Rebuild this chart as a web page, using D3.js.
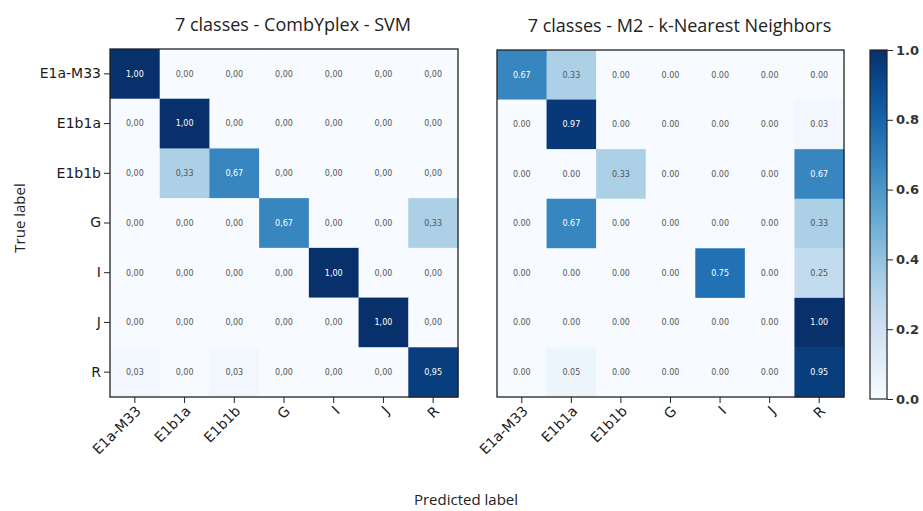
<!DOCTYPE html>
<meta charset="utf-8">
<script src="https://d3js.org/d3.v7.min.js"></script>
<style>
  body { margin: 0; background: #fff; }
  text { font-family: "Open Sans", sans-serif; }
</style>
<div id="chart"></div>
<script>

// class names (rows = true label, columns = predicted label)
const classes = ["E1a-M33", "E1b1a", "E1b1b", "G", "I", "J", "R"];

// normalised confusion matrix - CombYplex SVM
const svmValues = [
  [1.00, 0.00, 0.00, 0.00, 0.00, 0.00, 0.00],
  [0.00, 1.00, 0.00, 0.00, 0.00, 0.00, 0.00],
  [0.00, 0.33, 0.67, 0.00, 0.00, 0.00, 0.00],
  [0.00, 0.00, 0.00, 0.67, 0.00, 0.00, 0.33],
  [0.00, 0.00, 0.00, 0.00, 1.00, 0.00, 0.00],
  [0.00, 0.00, 0.00, 0.00, 0.00, 1.00, 0.00],
  [0.03, 0.00, 0.03, 0.00, 0.00, 0.00, 0.95]
];

// normalised confusion matrix - M2 k-Nearest Neighbors
const knnValues = [
  [0.67, 0.33, 0.00, 0.00, 0.00, 0.00, 0.00],
  [0.00, 0.97, 0.00, 0.00, 0.00, 0.00, 0.03],
  [0.00, 0.00, 0.33, 0.00, 0.00, 0.00, 0.67],
  [0.00, 0.67, 0.00, 0.00, 0.00, 0.00, 0.33],
  [0.00, 0.00, 0.00, 0.00, 0.75, 0.00, 0.25],
  [0.00, 0.00, 0.00, 0.00, 0.00, 0.00, 1.00],
  [0.00, 0.05, 0.00, 0.00, 0.00, 0.00, 0.95]
];

const colorbarTicks = [0, 0.2, 0.4, 0.6, 0.8, 1.0];

const W = 923, H = 511;
const svg = d3.select("#chart").append("svg")
    .attr("width", W).attr("height", H);

const color = d3.scaleSequential(d3.interpolateBlues).domain([0, 1]);

function drawMatrix(left, top, size, values, title, decSep, showY) {
  const g = svg.append("g").attr("transform", `translate(${left},${top})`);

  const x = d3.scaleBand().domain(classes).range([0, size]);
  const y = d3.scaleBand().domain(classes).range([0, size]);

  const cells = [];
  values.forEach((row, i) => row.forEach((v, j) =>
    cells.push({t: classes[i], p: classes[j], v: v})));

  g.selectAll("rect.cell")
    .data(cells)
    .join("rect")
      .attr("class", "cell")
      .attr("x", d => x(d.p))
      .attr("y", d => y(d.t))
      .attr("width", x.bandwidth() + 0.5)
      .attr("height", y.bandwidth() + 0.5)
      .attr("fill", d => color(d.v));

  g.selectAll("text.val")
    .data(cells)
    .join("text")
      .attr("class", "val")
      .attr("x", d => x(d.p) + x.bandwidth() / 2)
      .attr("y", d => y(d.t) + y.bandwidth() / 2)
      .attr("dy", "0.35em")
      .attr("text-anchor", "middle")
      .style("font-family", "'DejaVu Sans', sans-serif")
      .style("font-size", "8px")
      .style("fill", d => d.v > 0.5 ? "#fff" : "#555")
      .text(d => d.v.toFixed(2).replace(".", decSep));

  // frame
  g.append("rect")
    .attr("width", size).attr("height", size)
    .attr("fill", "none").attr("stroke", "#222").attr("stroke-width", 1.3);

  // x axis, labels rotated 45 degrees
  const xa = g.append("g")
    .attr("transform", `translate(0,${size})`)
    .call(d3.axisBottom(x).tickSize(6).tickSizeOuter(0));
  xa.select(".domain").remove();
  xa.selectAll("line").attr("stroke", "#222");
  xa.selectAll("text")
    .attr("x", 0).attr("y", 0).attr("dy", 0)
    .attr("transform", "translate(7,15) rotate(-45)")
    .attr("text-anchor", "end")
    .style("font-family", "'DejaVu Sans', sans-serif")
    .style("font-size", "14px")
    .style("fill", "#1a1a1a");

  if (showY) {
    const ya = g.append("g")
      .call(d3.axisLeft(y).tickSize(6).tickSizeOuter(0));
    ya.select(".domain").remove();
    ya.selectAll("line").attr("stroke", "#222");
    ya.selectAll("text")
      .attr("x", -9)
      .style("font-family", "'DejaVu Sans', sans-serif")
      .style("font-size", "14px")
      .style("fill", "#1a1a1a");
  }

  svg.append("text")
    .attr("x", left + size / 2 + 9)
    .attr("y", top - 18)
    .attr("text-anchor", "middle")
    .style("font-size", "18px")
    .style("fill", "#222")
    .text(title);
}

drawMatrix(110, 49, 348, svmValues, "7 classes - CombYplex - SVM", ",", true);
drawMatrix(497, 50, 347, knnValues, "7 classes - M2 - k-Nearest Neighbors", ".", false);

// colorbar
const cbX = 870, cbW = 17, cbTop = 50, cbBottom = 399;
const defs = svg.append("defs");
const grad = defs.append("linearGradient")
    .attr("id", "cbgrad").attr("x1", 0).attr("y1", 1).attr("x2", 0).attr("y2", 0);
d3.range(0, 1.0001, 0.1).forEach(t =>
  grad.append("stop").attr("offset", t).attr("stop-color", color(t)));
svg.append("rect")
  .attr("x", cbX).attr("y", cbTop)
  .attr("width", cbW).attr("height", cbBottom - cbTop)
  .attr("fill", "url(#cbgrad)")
  .attr("stroke", "#222").attr("stroke-width", 1.2);

const cbScale = d3.scaleLinear().domain([0, 1]).range([cbBottom, cbTop]);
const cba = svg.append("g")
  .attr("transform", `translate(${cbX + cbW},0)`)
  .call(d3.axisRight(cbScale).tickValues(colorbarTicks).tickFormat(d3.format(".1f")).tickSize(6));
cba.select(".domain").remove();
cba.selectAll("line").attr("stroke", "#222");
cba.selectAll("text")
  .style("font-family", "'DejaVu Sans', sans-serif")
  .style("font-weight", "bold")
  .style("font-size", "13px")
  .style("fill", "#333");

// axis titles
svg.append("text")
  .attr("transform", "translate(25,218) rotate(-90)")
  .attr("text-anchor", "middle")
  .style("font-size", "15px")
  .style("fill", "#222")
  .text("True label");

svg.append("text")
  .attr("x", 466).attr("y", 505)
  .attr("text-anchor", "middle")
  .style("font-size", "15px")
  .style("fill", "#222")
  .text("Predicted label");

</script>
